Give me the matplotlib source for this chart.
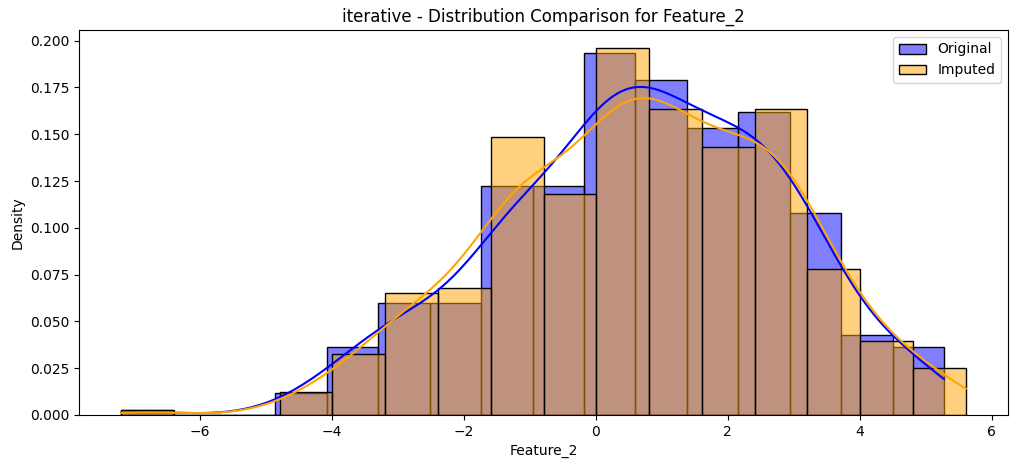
import math
import numpy as np
import matplotlib
matplotlib.use("Agg")
import matplotlib.pyplot as plt

# data range (min / max of each column) and number of bins
orig_min, orig_max = -7.19, 5.28
imp_min, imp_max = -7.19, 5.61
n_bins = 16
n_samples = 450  # approx. sample size, used for the kde bandwidth

# density per bin
orig_density = [0.0029, 0.0, 0.0, 0.0116, 0.0365, 0.0597, 0.0597, 0.1225,
                0.1225, 0.1934, 0.1788, 0.1533, 0.1617, 0.1079, 0.0426, 0.0365]
imp_density = [0.0028, 0.0, 0.0, 0.0125, 0.0325, 0.0654, 0.0677, 0.1485,
               0.1180, 0.1959, 0.1635, 0.1431, 0.1635, 0.0779, 0.0398, 0.0250]

feature = "Feature_2"
method = "iterative"

_erf = np.frompyfunc(math.erf, 1, 1)


## gaussian kde of binned data: mass spread evenly in each bin, then smoothed
# (scott bandwidth from the binned variance, with Sheppard's correction)
def binned_kde(edges, dens, n, npts=200):
	lo, hi = edges[:-1], edges[1:]
	centres = 0.5 * (lo + hi)
	w = np.asarray(dens) * (hi - lo)
	w = w / w.sum()
	mean = np.sum(w * centres)
	var = np.sum(w * (centres - mean) ** 2) - np.mean(hi - lo) ** 2 / 12
	bw = np.sqrt(var) * n ** (-1.0 / 5)
	x = np.linspace(edges[0], edges[-1], npts)
	y = np.zeros_like(x)
	for a, b, wi in zip(lo, hi, w):
		cdf_a = _erf((x - a) / (bw * math.sqrt(2))).astype(float)
		cdf_b = _erf((x - b) / (bw * math.sqrt(2))).astype(float)
		y += wi * 0.5 * (cdf_a - cdf_b) / (b - a)
	return x, y


fig = plt.figure(figsize=(10.19, 4.68), dpi=100)
ax = fig.add_axes([79 / 1019, 53 / 468, 929 / 1019, 385 / 468])

series = [
	("Original", orig_min, orig_max, orig_density, "blue"),
	("Imputed", imp_min, imp_max, imp_density, "orange"),
]

for label, lo, hi, dens, col in series:
	edges = np.linspace(lo, hi, n_bins + 1)
	ax.bar(edges[:-1], dens, width=np.diff(edges), align="edge",
		facecolor=matplotlib.colors.to_rgba(col, 0.5), edgecolor="black",
		linewidth=1, label=label)
	kx, ky = binned_kde(edges, dens, n_samples)
	ax.plot(kx, ky, color=col, lw=1.5)

ax.set_title(f"{method} - Distribution Comparison for {feature}")
ax.set_xlabel(feature)
ax.set_ylabel("Density")
ax.legend(loc="upper right")

fig.savefig("out.png", dpi=100)
